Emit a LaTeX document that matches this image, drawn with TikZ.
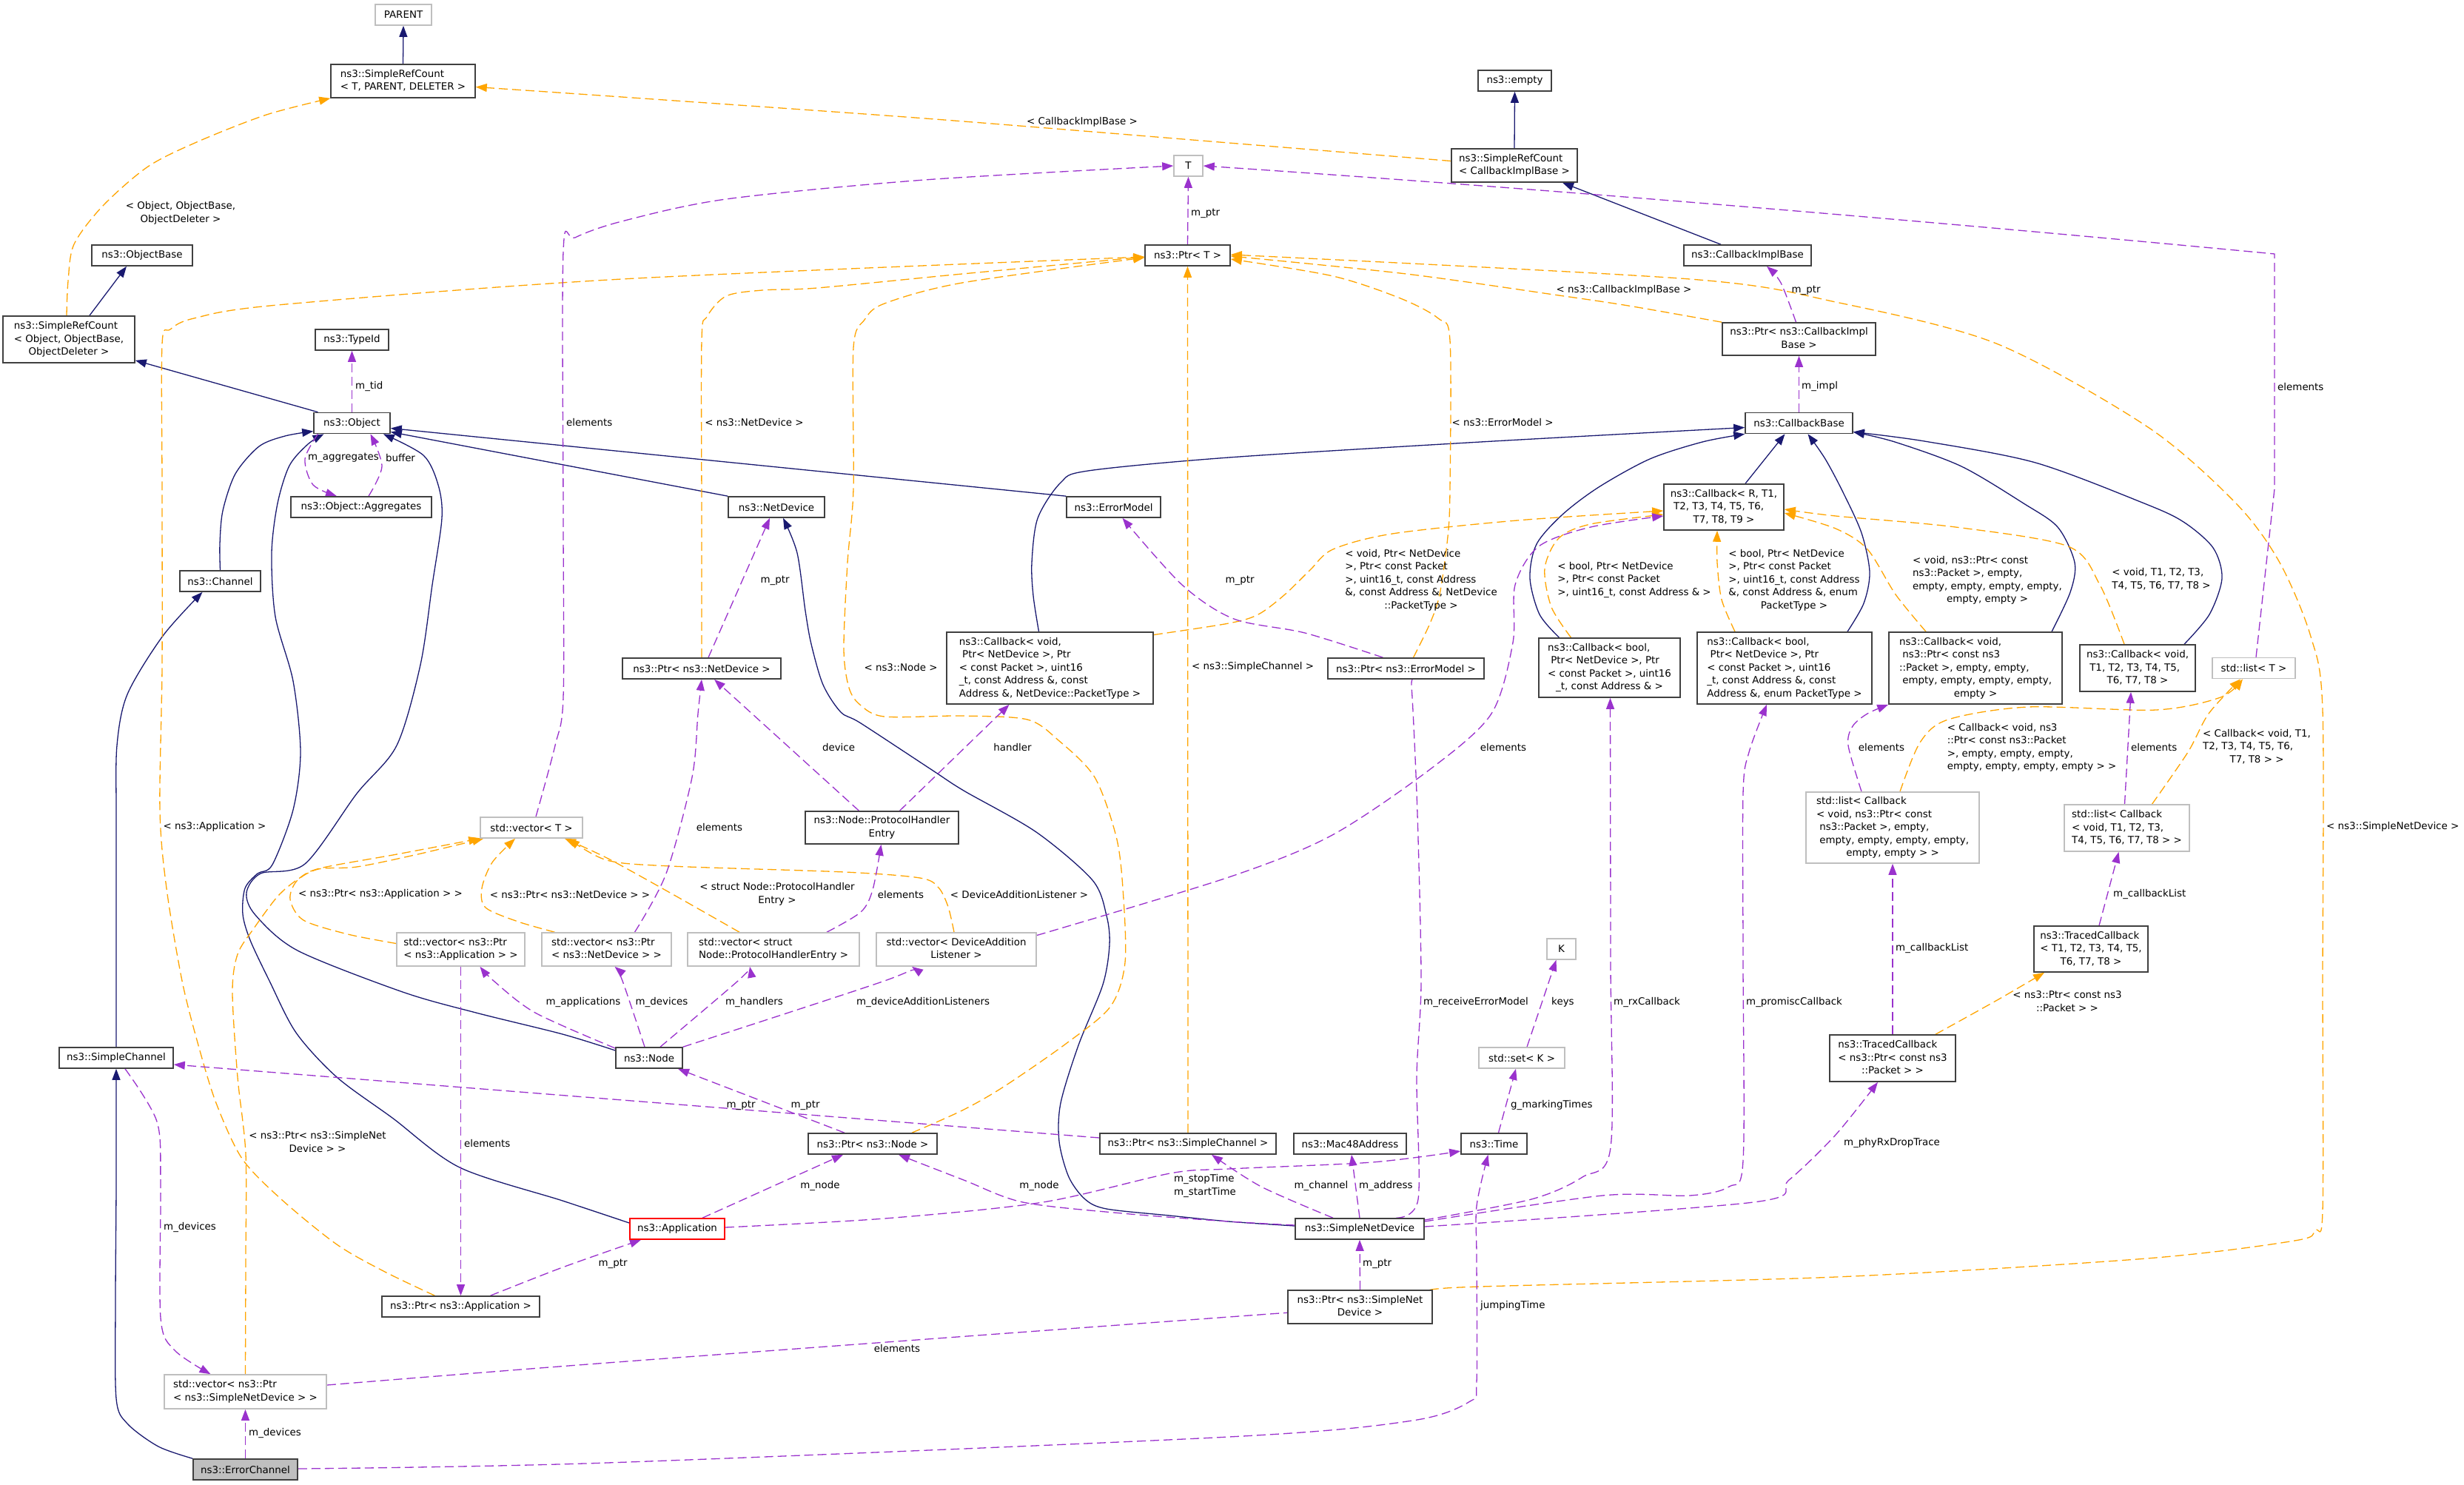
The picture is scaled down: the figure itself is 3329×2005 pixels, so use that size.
\documentclass[tikz,border=0pt]{standalone}
\usepackage{fontspec}
\setmainfont{DejaVu Sans}
\usetikzlibrary{arrows.meta}
\definecolor{midblue}{HTML}{191970}
\definecolor{purp}{HTML}{9A32CD}
\definecolor{orng}{HTML}{FFA500}
\definecolor{gbord}{HTML}{BFBFBF}
\definecolor{nbord}{HTML}{404040}
\newcommand{\mlx}[2]{\begin{tabular}{@{}l@{}}#1\\\multicolumn{1}{@{}c@{}}{#2}\end{tabular}}
\pgfdeclarelayer{bg}
\pgfsetlayers{bg,main}
\begin{document}
\begin{tikzpicture}[x=1pt,y=-1pt, font=\fontsize{13.4}{17.5}\selectfont,
  box/.style={draw=nbord, line width=1.6pt, fill=white, inner sep=0pt},
  gbox/.style={box, draw=gbord},
  sz/.style 2 args={minimum width=#1pt, minimum height=#2pt},
  edgeinh/.style={draw=midblue, line width=1.3pt, -{Triangle[length=15pt,width=11pt]}},
  edgeuse/.style={draw=purp, line width=1.3pt, dash pattern=on 12pt off 6pt, -{Triangle[length=15pt,width=11pt]}},
  edgetpl/.style={draw=orng, line width=1.3pt, dash pattern=on 12pt off 6pt, -{Triangle[length=15pt,width=11pt]}},
  lbl/.style={inner sep=0pt},
]
\useasboundingbox (0,0) rectangle (3329,2005);
% ---------------- nodes ----------------
\node[gbox,sz={76}{28}] (PARENT) at (545,20) {PARENT};
\node[box,sz={195}{45}] (SRCTPD) at (544.5,109.5) {\mlx{ns3::SimpleRefCount}{< T, PARENT, DELETER >}};
\node[box,sz={136}{28}] (ObjectBase) at (192,345) {ns3::ObjectBase};
\node[box,sz={178}{63}] (SRCObj) at (93,458.5) {\mlx{ns3::SimpleRefCount\\< Object, ObjectBase,}{ObjectDeleter >}};
\node[box,sz={99}{28}] (TypeId) at (475.5,459) {ns3::TypeId};
\node[box,sz={103}{28}] (Object) at (475.5,571.5) {ns3::Object};
\node[box,sz={190}{28}] (Aggregates) at (488,685) {ns3::Object::Aggregates};
\node[gbox,sz={39}{28}] (T) at (1605.5,224) {T};
\node[box,sz={115}{28}] (PtrT) at (1604.5,345) {ns3::Ptr< T >};
\node[box,sz={99}{28}] (Empty) at (2046.5,109) {ns3::empty};
\node[box,sz={170}{45}] (SRCCIB) at (2046,223.5) {\mlx{ns3::SimpleRefCount}{< CallbackImplBase >}};
\node[box,sz={172}{28}] (CIB) at (2361,345) {ns3::CallbackImplBase};
\node[box,sz={207}{44}] (PtrCIB) at (2430.5,458) {\mlx{ns3::Ptr< ns3::CallbackImpl}{Base >}};
\node[box,sz={145}{28}] (CBase) at (2430.5,571.5) {ns3::CallbackBase};
\node[box,sz={162}{62}] (CbR) at (2329,685) {\mlx{ns3::Callback< R, T1,\\\ T2, T3, T4, T5, T6,}{T7, T8, T9 >}};
\node[box,sz={130}{28}] (NetDevice) at (1049,685) {ns3::NetDevice};
\node[box,sz={127}{28}] (ErrorModel) at (1504.5,685) {ns3::ErrorModel};
\node[box,sz={109}{28}] (Channel) at (297.5,785) {ns3::Channel};
\node[box,sz={214}{28}] (PtrND) at (948,903) {ns3::Ptr< ns3::NetDevice >};
\node[box,sz={279}{97}] (CbND) at (1418.5,902.5) {\mlx{ns3::Callback< void,\\\ Ptr< NetDevice >, Ptr\\< const Packet >, uint16\\\_t, const Address \&, const}{Address \&, NetDevice::PacketType >}};
\node[box,sz={211}{28}] (PtrEM) at (1899.5,903) {ns3::Ptr< ns3::ErrorModel >};
\node[box,sz={191}{80}] (CbBoolA) at (2174.5,902) {\mlx{ns3::Callback< bool,\\\ Ptr< NetDevice >, Ptr\\< const Packet >, uint16}{\_t, const Address \& >}};
\node[box,sz={236}{97}] (CbBoolB) at (2411,902.5) {\mlx{ns3::Callback< bool,\\\ Ptr< NetDevice >, Ptr\\< const Packet >, uint16\\\_t, const Address \&, const}{Address \&, enum PacketType >}};
\node[box,sz={234}{97}] (CbVPkt) at (2669,902.5) {\mlx{ns3::Callback< void,\\\ ns3::Ptr< const ns3\\::Packet >, empty, empty,\\\ empty, empty, empty, empty,}{empty >}};
\node[box,sz={156}{63}] (CbVT) at (2888,902.5) {\mlx{ns3::Callback< void,\\\ T1, T2, T3, T4, T5,}{T6, T7, T8 >}};
\node[gbox,sz={112}{28}] (ListT) at (3045,902.5) {std::list< T >};
\node[gbox,sz={138}{28}] (VecT) at (718,1118) {std::vector< T >};
\node[box,sz={207}{44}] (PHE) at (1191.5,1118) {\mlx{ns3::Node::ProtocolHandler}{Entry}};
\node[gbox,sz={234}{96}] (ListCbPkt) at (2557,1118) {\mlx{std::list< Callback\\< void, ns3::Ptr< const\\\ ns3::Packet >, empty,\\\ empty, empty, empty, empty,}{empty, empty > >}};
\node[gbox,sz={169}{63}] (ListCbT) at (2873.5,1118.5) {\mlx{std::list< Callback\\< void, T1, T2, T3,}{T4, T5, T6, T7, T8 > >}};
\node[gbox,sz={173}{45}] (VecPtrApp) at (622.5,1282.5) {\mlx{std::vector< ns3::Ptr}{< ns3::Application > >}};
\node[gbox,sz={175}{45}] (VecPtrND) at (819.5,1282.5) {\mlx{std::vector< ns3::Ptr}{< ns3::NetDevice > >}};
\node[gbox,sz={232}{45}] (VecPHE) at (1045,1282.5) {\mlx{std::vector< struct}{Node::ProtocolHandlerEntry >}};
\node[gbox,sz={216}{45}] (VecDAL) at (1292,1282.5) {\mlx{std::vector< DeviceAddition}{Listener >}};
\node[gbox,sz={39}{28}] (K) at (2109.5,1282) {K};
\node[box,sz={154}{62}] (TCT) at (2825,1282) {\mlx{ns3::TracedCallback\\< T1, T2, T3, T4, T5,}{T6, T7, T8 >}};
\node[box,sz={154}{28}] (SimpleChannel) at (157,1429) {ns3::SimpleChannel};
\node[box,sz={90}{28}] (Node) at (877,1429) {ns3::Node};
\node[gbox,sz={116}{28}] (SetK) at (2056,1429) {std::set< K >};
\node[box,sz={170}{63}] (TCPkt) at (2557,1429.5) {\mlx{ns3::TracedCallback\\< ns3::Ptr< const ns3}{::Packet > >}};
\node[box,sz={174}{28}] (PtrNode) at (1179,1545) {ns3::Ptr< ns3::Node >};
\node[box,sz={238}{28}] (PtrSC) at (1605,1545) {ns3::Ptr< ns3::SimpleChannel >};
\node[box,sz={152}{28}] (Mac48) at (1824,1545) {ns3::Mac48Address};
\node[box,sz={89}{28}] (Time) at (2018.5,1545) {ns3::Time};
\node[box,sz={128}{28},draw=red] (Application) at (915,1660) {ns3::Application};
\node[box,sz={174}{28}] (SND) at (1837,1660) {ns3::SimpleNetDevice};
\node[box,sz={213}{28}] (PtrApp) at (622.5,1765) {ns3::Ptr< ns3::Application >};
\node[box,sz={195}{45}] (PtrSND) at (1837.5,1765.5) {\mlx{ns3::Ptr< ns3::SimpleNet}{Device >}};
\node[gbox,sz={219}{46}] (VecPtrSND) at (331.5,1880) {\mlx{std::vector< ns3::Ptr}{< ns3::SimpleNetDevice > >}};
\node[box,sz={141}{28},fill=gbord] (ErrorChannel) at (331.5,1985) {ns3::ErrorChannel};
% ---------------- edge labels ----------------
\node[lbl] (lA) at (244,288) {\mlx{< Object, ObjectBase,}{ObjectDeleter >}};
\node[lbl] (lB) at (1462,165) {< CallbackImplBase >};
\node[lbl] (lC) at (2194,392) {< ns3::CallbackImplBase >};
\node[lbl] (lD) at (1019,570) {< ns3::NetDevice >};
\node[lbl] (lE) at (2030,570) {< ns3::ErrorModel >};
\node[lbl] (lF) at (1217,901) {< ns3::Node >};
\node[lbl,anchor=west] (lG) at (1610,901) {< ns3::SimpleChannel >};
\node[lbl] (lH) at (290,1117) {< ns3::Application >};
\node[lbl,anchor=west] (lI) at (3143,1117) {< ns3::SimpleNetDevice >};
\node[lbl] (lJ) at (429,1544) {\mlx{< ns3::Ptr< ns3::SimpleNet}{Device > >}};
\node[lbl] (lK) at (514,1208) {< ns3::Ptr< ns3::Application > >};
\node[lbl] (lL) at (770,1208) {< ns3::Ptr< ns3::NetDevice > >};
\node[lbl] (lM) at (1050,1208) {\mlx{< struct Node::ProtocolHandler}{Entry >}};
\node[lbl] (lN) at (1377,1208) {< DeviceAdditionListener >};
\node[lbl] (lO) at (1920,783.5) {\mlx{< void, Ptr< NetDevice\\>, Ptr< const Packet\\>, uint16\_t, const Address\\\&, const Address \&, NetDevice}{::PacketType >}};
\node[lbl] (lP) at (2208,783) {\mlx{< bool, Ptr< NetDevice\\>, Ptr< const Packet}{>, uint16\_t, const Address \& >}};
\node[lbl] (lQ) at (2424,783.5) {\mlx{< bool, Ptr< NetDevice\\>, Ptr< const Packet\\>, uint16\_t, const Address\\\&, const Address \&, enum}{PacketType >}};
\node[lbl] (lR) at (2685,784) {\mlx{< void, ns3::Ptr< const\\ns3::Packet >, empty,\\empty, empty, empty, empty,}{empty, empty >}};
\node[lbl] (lS) at (2920,783) {\mlx{< void, T1, T2, T3,}{T4, T5, T6, T7, T8 >}};
\node[lbl] (lT) at (2745,1010) {\mlx{< Callback< void, ns3\\::Ptr< const ns3::Packet\\>, empty, empty, empty,}{empty, empty, empty, empty > >}};
\node[lbl] (lU) at (3049,1009) {\mlx{< Callback< void, T1,\\T2, T3, T4, T5, T6,}{T7, T8 > >}};
\node[lbl] (lV) at (2793,1354) {\mlx{< ns3::Ptr< const ns3}{::Packet > >}};
\node[lbl,anchor=west] (m1) at (480,522) {m\_tid};
\node[lbl] (m2) at (464,618) {m\_aggregates};
\node[lbl] (m3) at (541,618) {buffer};
\node[lbl,anchor=west] (m4) at (1609,288) {m\_ptr};
\node[lbl,anchor=west] (m5) at (765,570) {elements};
\node[lbl,anchor=west] (m6) at (3077,522) {elements};
\node[lbl] (m7) at (2440,392) {m\_ptr};
\node[lbl,anchor=west] (m8) at (2434,522) {m\_impl};
\node[lbl] (m9) at (1047,784) {m\_ptr};
\node[lbl] (m10) at (1675,784) {m\_ptr};
\node[lbl] (m11) at (972,1117) {elements};
\node[lbl] (m12) at (1133,1009) {device};
\node[lbl] (m13) at (1368,1009) {handler};
\node[lbl] (m14) at (1217,1208) {elements};
\node[lbl] (m15) at (2031,1009) {elements};
\node[lbl,anchor=west] (m16) at (627,1544) {elements};
\node[lbl] (m17) at (788,1354) {m\_applications};
\node[lbl] (m18) at (894,1354) {m\_devices};
\node[lbl] (m19) at (1019,1354) {m\_handlers};
\node[lbl] (m20) at (1247,1354) {m\_deviceAdditionListeners};
\node[lbl] (m21) at (1088,1493) {m\_ptr};
\node[lbl] (m22) at (1001,1493) {m\_ptr};
\node[lbl] (m23) at (1108,1602) {m\_node};
\node[lbl] (m24) at (1404,1602) {m\_node};
\node[lbl] (m25) at (1628,1602) {\mlx{m\_stopTime}{m\_startTime}};
\node[lbl] (m26) at (1785,1602) {m\_channel};
\node[lbl,anchor=west] (m27) at (1836,1602) {m\_address};
\node[lbl,anchor=west] (m28) at (1923,1354) {m\_receiveErrorModel};
\node[lbl,anchor=west] (m29) at (2180,1354) {m\_rxCallback};
\node[lbl,anchor=west] (m30) at (2359,1354) {m\_promiscCallback};
\node[lbl,anchor=west] (m31) at (2491,1544) {m\_phyRxDropTrace};
\node[lbl,anchor=west] (m32) at (2041,1493) {g\_markingTimes};
\node[lbl,anchor=west] (m33) at (2096,1354) {keys};
\node[lbl,anchor=west] (m34) at (1841,1707) {m\_ptr};
\node[lbl,anchor=west] (m35) at (336,1936) {m\_devices};
\node[lbl,anchor=west] (m36) at (221,1658) {m\_devices};
\node[lbl] (m37) at (1212,1821) {elements};
\node[lbl,anchor=west] (m38) at (2000,1764) {jumpingTime};
\node[lbl] (m39) at (2542,1009) {elements};
\node[lbl,anchor=west] (m40) at (2879,1009) {elements};
\node[lbl,anchor=west] (m41) at (2855,1208) {m\_callbackList};
\node[lbl,anchor=west] (m42) at (2561,1281) {m\_callbackList};
\node[lbl] (m43) at (828,1707) {m\_ptr};
% ---------------- edges ----------------
\begin{pgfonlayer}{bg}
\fill[white] (0,0) rectangle (3329,2005);
% inheritance
\draw[edgeinh] (SRCTPD.north) -- (PARENT.south);
\draw[edgeinh] ([xshift=28pt]SRCObj.north) -- ([xshift=-21pt]ObjectBase.south);
\draw[edgeinh] ([xshift=-46pt]Object.north) -- ([yshift=4pt]SRCObj.south east);
\draw[edgeinh] (SRCCIB.north) -- (Empty.south);
\draw[edgeinh] ([xshift=-36pt]CIB.north) -- ([xshift=65pt]SRCCIB.south);
\draw[edgeinh] plot[smooth] coordinates {(Channel.north) (297,735) (301,690) (318,640) (350,603) (385,589) ([yshift=-11pt]Object.west)};
\draw[edgeinh] plot[smooth] coordinates {([yshift=8pt]Application.west) (760,1622) (621,1577) (530,1510) (455,1455) (400,1395) (364,1325) (338,1270) (328,1235) (331,1200) (348,1180) (368,1168) (396,1094) (406,1016) (396,920) (372,833) (367,747) (375,680) (391,629) (416,600) ([xshift=-38pt]Object.south)};
\draw[edgeinh] plot[smooth] coordinates {([yshift=10pt]Node.west) (760,1397) (643,1368) (544,1340) (402,1284) (345,1236) (333,1206) (352,1180) (412,1167) (482,1072) (536,1007) (568,898) (584,790) (597,700) (592,655) (572,615) ([xshift=-10pt]Object.south east)};
\draw[edgeinh] (ErrorModel.north west) -- ([yshift=-7pt]Object.east);
\draw[edgeinh] (NetDevice.north west) -- ([yshift=-12pt]Object.east);
\draw[edgeinh] plot[smooth] coordinates {([yshift=4pt]SND.west) (1660,1650) (1580,1642) (1495,1633) (1466,1620) (1444,1590) (1431,1542) (1433,1490) (1457,1412) (1490,1330) (1499,1276) (1495,1237) (1476,1189) (1400,1124) (1302,1068) (1259,1040) (1163,977) (1136,962) (1112,925) (1096,870) (1088,825) (1077,747) ([xshift=9pt]NetDevice.south)};
\draw[edgeinh] plot[smooth] coordinates {(SimpleChannel.north) (157,1250) (157,1100) (158,1007) (172,938) (220,859) ([xshift=-24pt]Channel.south)};
\draw[edgeinh] plot[smooth] coordinates {(ErrorChannel.north west) (214,1954) (172,1923) (157,1889) (156,1760) (157,1600) (SimpleChannel.south)};
\draw[edgeinh] plot[smooth] coordinates {([xshift=-15pt]CbND.north) (1396,805) (1394,760) (1402,700) (1433,652) (1470,636) (1660,618) (2000,597) ([yshift=-6pt]CBase.west)};
\draw[edgeinh] ([xshift=29pt]CbR.north) -- ([xshift=-19pt]CBase.south);
\draw[edgeinh] plot[smooth] coordinates {([xshift=-68pt]CbBoolA.north) (2080,830) (2067,781) (2076,735) (2111,695) (2160,658) (2229,620) (2300,597) (CBase.south west)};
\draw[edgeinh] plot[smooth] coordinates {([xshift=85pt]CbBoolB.north) (2518,815) (2526,773) (2515,720) (2490,665) (2466,620) ([xshift=12pt]CBase.south)};
\draw[edgeinh] plot[smooth] coordinates {([xshift=103pt]CbVPkt.north) (2797,800) (2803,760) (2780,712) (2734,680) (2650,630) (2560,597) ([yshift=-12pt]CBase.east)};
\draw[edgeinh] plot[smooth] coordinates {([xshift=63pt]CbVT.north) (2985,830) (3002,781) (2990,740) (2950,705) (2897,680) (2750,625) (2600,596) ([yshift=-12pt]CBase.east)};
% template instances
\draw[edgetpl] plot[smooth] coordinates {([xshift=-3pt]SRCObj.north) (92,380) (100,330) (139,278) (200,225) (268,191) (360,155) (SRCTPD.south west)};
\draw[edgetpl] plot[smooth] coordinates {([yshift=6pt]SRCCIB.west) (1660,193) (1250,160) (840,131) ([yshift=-8pt]SRCTPD.east)};
\draw[edgetpl] plot[smooth] coordinates {(PtrCIB.north west) (2200,413) (2106,399) (1900,370) ([yshift=-1pt]PtrT.east)};
\draw[edgetpl] plot[smooth] coordinates {(PtrND.north) (948,700) (948,460) (955,428) (981,400) (1030,392) (1104,389) (1300,370) ([yshift=-2pt]PtrT.west)};
\draw[edgetpl] plot[smooth] coordinates {([xshift=10pt]PtrEM.north) (1932,842) (1945,803) (1956,725) (1959,660) (1959,460) (1943,430) (1892,403) (1801,373) ([yshift=-5pt]PtrT.east)};
\draw[edgetpl] plot[smooth] coordinates {([xshift=53pt]PtrNode.north) (1300,1500) (1356,1468) (1440,1410) (1500,1360) (1520,1300) (1517,1200) (1508,1130) (1479,1050) (1430,1000) (1388,972) (1300,967) (1195,968) (1162,952) (1147,929) (1140,877) (1145,760) (1153,660) (1153,470) (1168,432) (1195,410) (1300,382) ([yshift=-3pt]PtrT.west)};
\draw[edgetpl] (PtrSC.north) -- (PtrT.south);
\draw[edgetpl] plot[smooth] coordinates {([xshift=-35pt]PtrApp.north) (520,1718) (455,1681) (380,1620) (327,1565) (292,1490) (268,1412) (246,1325) (225,1200) (216,1094) (219,900) (219,660) (219,465) (230,445) (262,430) (375,412) (840,377) ([yshift=-2pt]PtrT.west)};
\draw[edgetpl] plot[smooth] coordinates {([yshift=17pt]PtrSND.east) (1972,1739) (2480,1725) (2900,1700) (3100,1676) (3128,1662) (3138,1635) (3138,1325) (3138,960) (3122,860) (3080,760) (3021,680) (2902,577) (2697,464) (2480,408) (2283,377) ([yshift=1pt]PtrT.east)};
\draw[edgetpl] plot[smooth] coordinates {(VecPtrSND.north) (332,1700) (332,1559) (321,1455) (314,1340) (321,1289) (343,1254) (375,1211) (402,1188) (432,1173) (536,1154) (VecT.south west)};
\draw[edgetpl] plot[smooth] coordinates {([yshift=8pt]VecPtrApp.west) (470,1262) (410,1243) (392,1215) (401,1190) (430,1174) (482,1171) (560,1155) ([xshift=5pt]VecT.south west)};
\draw[edgetpl] plot[smooth] coordinates {([xshift=-70pt]VecPtrND.north) (700,1245) (656,1226) (651,1200) (665,1165) ([xshift=-22pt]VecT.south)};
\draw[edgetpl] plot[smooth] coordinates {([xshift=-46pt]VecPHE.north) (900,1203) (820,1159) ([xshift=45pt]VecT.south)};
\draw[edgetpl] plot[smooth] coordinates {([xshift=-3pt]VecDAL.north) (1281,1225) (1268,1199) (1243,1186) (1141,1178) (906,1170) (820,1162) ([xshift=50pt]VecT.south)};
\draw[edgetpl] plot[smooth] coordinates {([yshift=45pt]CbND.east) (1660,842) (1700,830) (1736,803) (1770,770) (1801,742) (1881,721) (2050,703) ([yshift=-5pt]CbR.west)};
\draw[edgetpl] plot[smooth] coordinates {([xshift=-52pt]CbBoolA.north) (2096,820) (2087,768) (2106,727) (2149,708) ([yshift=-10pt]CbR.west)};
\draw[edgetpl] plot[smooth] coordinates {([xshift=-67pt]CbBoolB.north) (2326,810) (2320,760) ([xshift=-9pt]CbR.south)};
\draw[edgetpl] plot[smooth] coordinates {([xshift=-67pt]CbVPkt.north) (2561,803) (2523,742) (2480,714) ([yshift=-8pt]CbR.east)};
\draw[edgetpl] plot[smooth] coordinates {([xshift=-18pt]CbVT.north) (2837,790) (2794,738) (2642,712) (2480,697) ([yshift=-3pt]CbR.east)};
\draw[edgetpl] plot[smooth] coordinates {([xshift=10pt]ListCbPkt.north) (2594,1003) (2632,972) (2740,955) (2913,959) (3000,942) ([xshift=-15pt]ListT.south)};
\draw[edgetpl] plot[smooth] coordinates {([xshift=34pt]ListCbT.north) (2956,1016) (2984,964) ([xshift=-18pt]ListT.south)};
\draw[edgetpl] plot[smooth] coordinates {([xshift=58pt]TCPkt.north) (2700,1350) ([xshift=-63pt]TCT.south)};
% usage
\draw[edgeuse] (Object.north) -- (TypeId.south);
\draw[edgeuse] plot[smooth] coordinates {([xshift=-46pt]Object.south) (412,620) (423,655) ([xshift=-33pt]Aggregates.north)};
\draw[edgeuse] plot[smooth] coordinates {([xshift=10pt]Aggregates.north) (516,630) ([xshift=25pt]Object.south)};
\draw[edgeuse] (PtrT.north) -- (T.south);
\draw[edgeuse] plot[smooth] coordinates {([xshift=6pt]VecT.north) (750,1007) (761,942) (761,700) (761,340) (777,321) (840,299) (981,269) (1249,243) (T.west)};
\draw[edgeuse] ([xshift=3pt]ListT.north) -- (3073,660) -- (3073,343) .. controls (2600,298) and (2100,256) .. (T.east);
\draw[edgeuse] plot[smooth] coordinates {([xshift=-4pt]PtrCIB.north) (2406,382) ([xshift=26pt]CIB.south)};
\draw[edgeuse] (CBase.north) -- (PtrCIB.south);
\draw[edgeuse] ([xshift=9pt]PtrND.north) -- ([xshift=-9pt]NetDevice.south);
\draw[edgeuse] plot[smooth] coordinates {([xshift=-31pt]PtrEM.north) (1763,855) (1667,836) (1597,790) ([xshift=12pt]ErrorModel.south)};
\draw[edgeuse] plot[smooth] coordinates {([xshift=38pt]VecPtrND.north) (900,1180) (935,1050) (943,964) (PtrND.south)};
\draw[edgeuse] ([xshift=-31pt]PHE.north) -- ([xshift=17pt]PtrND.south);
\draw[edgeuse] ([xshift=24pt]PHE.north) -- ([xshift=-55pt]CbND.south);
\draw[edgeuse] plot[smooth] coordinates {([xshift=72pt]VecPHE.north) (1163,1232) (1179,1202) ([xshift=-1pt]PHE.south)};
\draw[edgeuse] plot[smooth] coordinates {([yshift=19pt]VecDAL.east) (1660,1185) (1800,1128) (1935,1037) (2015,964) (2044,868) (2047,790) (2079,738) (2149,712) ([yshift=-12pt]CbR.west)};
\draw[edgeuse] (VecPtrApp.south) -- (PtrApp.north);
\draw[edgeuse] plot[smooth] coordinates {([yshift=13pt]Node.west) (723,1368) (667,1325) ([xshift=26pt]VecPtrApp.south)};
\draw[edgeuse] plot[smooth] coordinates {([xshift=-6pt]Node.north) (841,1325) ([xshift=11pt]VecPtrND.south)};
\draw[edgeuse] plot[smooth] coordinates {([xshift=15pt]Node.north) (997,1325) ([xshift=-32pt]VecPHE.south)};
\draw[edgeuse] plot[smooth] coordinates {(Node.north east) (1195,1325) ([xshift=-60pt]VecDAL.south)};
\draw[edgeuse] ([xshift=-38pt]PtrNode.north) -- ([xshift=39pt]Node.south);
\draw[edgeuse] ([yshift=8pt]PtrSC.west) -- ([yshift=-9pt]SimpleChannel.east);
\draw[edgeuse] ([xshift=34pt]Application.north) -- ([xshift=-40pt]PtrNode.south);
\draw[edgeuse] plot[smooth] coordinates {([yshift=5pt]SND.west) (1660,1650) (1516,1639) (1382,1624) (1302,1594) ([xshift=35pt]PtrNode.south)};
\draw[edgeuse] plot[smooth] coordinates {([yshift=2pt]Application.east) (1195,1646) (1409,1624) (1581,1585) (1660,1579) (1854,1570) ([yshift=-10pt]Time.west)};
\draw[edgeuse] plot[smooth] coordinates {([xshift=-36pt]SND.north) (1704,1603) ([xshift=32pt]PtrSC.south)};
\draw[edgeuse] (SND.north) -- ([xshift=2pt]Mac48.south);
\draw[edgeuse] plot[smooth] coordinates {([xshift=49pt]SND.north) (1916,1620) (1914,1455) (1920,1325) (1915,1100) (1908,942) ([xshift=5pt]PtrEM.south)};
\draw[edgeuse] plot[smooth] coordinates {([yshift=12pt]SND.east) (2069,1620) (2138,1590) (2176,1550) (2176,1300) ([xshift=1pt]CbBoolA.south)};
\draw[edgeuse] plot[smooth] coordinates {([yshift=10pt]SND.east) (2165,1615) (2283,1615) (2336,1603) (2355,1568) (2355,1300) (2355,1072) (2363,1016) ([xshift=-24pt]CbBoolB.south)};
\draw[edgeuse] plot[smooth] coordinates {([yshift=3pt]SND.east) (2369,1624) (2417,1594) (2480,1533) ([xshift=-20pt]TCPkt.south)};
\draw[edgeuse] ([xshift=6pt]Time.north) -- ([xshift=-8pt]SetK.south);
\draw[edgeuse] ([xshift=7pt]SetK.north) -- ([xshift=-7pt]K.south);
\draw[edgeuse] (PtrSND.north) -- (SND.south);
\draw[edgeuse] (ErrorChannel.north) -- (VecPtrSND.south);
\draw[edgeuse] plot[smooth] coordinates {([xshift=12pt]SimpleChannel.south) (212,1515) (217,1600) (217,1780) (236,1824) ([xshift=-47pt]VecPtrSND.north)};
\draw[edgeuse] plot[smooth] coordinates {([yshift=9pt]VecPtrSND.east) (820,1841) (1660,1779) ([yshift=-8pt]PtrSND.west)};
\draw[edgeuse] plot[smooth] coordinates {([yshift=1pt]ErrorChannel.east) (820,1976) (1660,1941) (1908,1919) (1986,1893) (1995,1867) (1995,1700) (1995,1629) ([xshift=-8pt]Time.south)};
\draw[edgeuse] plot[smooth] coordinates {([xshift=-42pt]ListCbPkt.north) (2497,1007) (2503,981) (2523,964) (CbVPkt.south west)};
\draw[edgeuse] ([xshift=-3pt]ListCbT.north) -- ([xshift=-9pt]CbVT.south);
\draw[edgeuse] ([xshift=11pt]TCT.north) -- ([xshift=-11pt]ListCbT.south);
\draw[edgeuse] (TCPkt.north) -- (ListCbPkt.south);
\draw[edgeuse] plot[smooth] coordinates {([xshift=40pt]PtrApp.north) (760,1712) ([xshift=-49pt]Application.south)};
\end{pgfonlayer}
\end{tikzpicture}
\end{document}
